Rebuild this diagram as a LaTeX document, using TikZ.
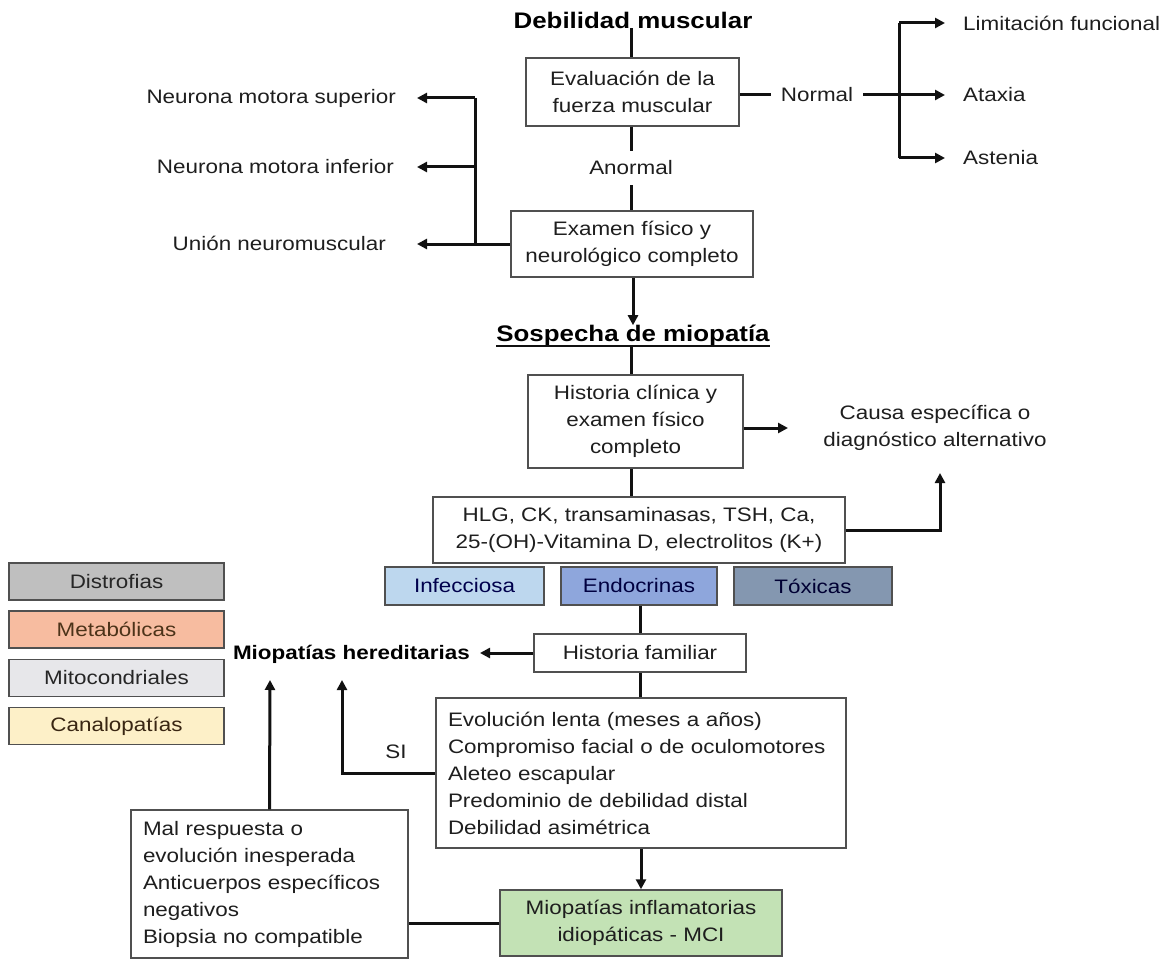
\documentclass[tikz,border=0pt]{standalone}
\usepackage{fontspec}
\setmainfont{Liberation Sans}[FakeStretch=1.15]
\usetikzlibrary{arrows.meta}
\definecolor{tcol}{HTML}{1E1E1E}
\definecolor{bcol}{HTML}{505050}
\definecolor{lcol}{HTML}{111111}
\definecolor{infc}{HTML}{BDD7EE}
\definecolor{endc}{HTML}{8EA6DC}
\definecolor{toxc}{HTML}{8497B0}
\definecolor{disc}{HTML}{BFBFBF}
\definecolor{metc}{HTML}{F7BCA0}
\definecolor{mitc}{HTML}{E7E7EA}
\definecolor{canc}{HTML}{FDF0C8}
\definecolor{grnc}{HTML}{C3E2B5}
\begin{document}
\begin{tikzpicture}[x=1pt,y=-1pt,
  txt/.style={font=\fontsize{19.5}{27}\selectfont, text=tcol, inner sep=0pt},
  txtb/.style={font=\fontsize{19.5}{27}\selectfont\bfseries, text=black, inner sep=0pt},
  hd/.style={font=\fontsize{22.5}{27}\selectfont\bfseries, text=black, inner sep=0pt},
  box/.style={draw=bcol, line width=1.5pt, fill=white, font=\fontsize{19.5}{27}\selectfont, text=tcol, align=center, inner sep=0pt},
  lbox/.style={box, align=left, inner xsep=12pt},
  cbox/.style={draw=bcol, line width=1.5pt, font=\fontsize{19.5}{27}\selectfont, inner sep=0pt, minimum height=38pt},
  ln/.style={draw=lcol, line width=3pt},
  arr/.style={ln, -{Triangle[length=10pt,width=10pt]}}]
\useasboundingbox (0,0) rectangle (1169,960);

% top
\node[hd] (title) at (633,20) {Debilidad muscular};
\node[box, minimum width=213pt, minimum height=68pt] (b1) at (632.5,92) {Evaluación de la\\fuerza muscular};
\draw[ln] (title.south -| 631,0) -- (b1.north -| 631,0);

\node[txt] (normal) at (817,95) {Normal};
\coordinate (jR) at (899,95);
\node[txt, anchor=west] (lim) at (963,23) {Limitación funcional};
\node[txt, anchor=west] (atax) at (963,95) {Ataxia};
\node[txt, anchor=west] (aste) at (963,158) {Astenia};
\draw[ln, shorten >=10pt] (b1.east |- normal.west) -- (normal.west);
\draw[arr, shorten <=10pt, shorten >=18pt] (normal.east) -- (atax.west);
\draw[ln] (lim.west -| jR) -- (aste.west -| jR);
\draw[arr, shorten >=18pt] (lim.west -| jR) -- (lim.west);
\draw[arr, shorten >=18pt] (aste.west -| jR) -- (aste.west);

\node[txt, inner ysep=10pt] (anormal) at (631,168) {Anormal};
\node[box, minimum width=242pt, minimum height=66pt] (b2) at (632,244) {Examen físico y\\neurológico completo};
\draw[ln] (b1.south -| anormal.north) -- (anormal.north);
\draw[ln] (anormal.south) -- (anormal.south |- b2.north);

% left
\node[txt, anchor=east] (nms) at (396,98) {Neurona motora superior};
\node[txt, anchor=east] (nmi) at (394,167) {Neurona motora inferior};
\node[txt, anchor=east] (unm) at (386,243) {Unión neuromuscular};
\coordinate (jL) at (475,244);
\draw[arr, shorten >=31pt] (b2.west) -- (b2.west -| unm.east);
\draw[ln] (jL |- nms.east) -- (jL);
\draw[arr, shorten >=21pt] (jL |- nms.east) -- (nms.east);
\draw[arr, shorten >=23pt] (jL |- nmi.east) -- (nmi.east);

% sospecha
\node[hd] (sosp) at (633,336) {Sospecha de miopatía};
\draw[line width=2pt, lcol] ([yshift=-4pt]sosp.base west) -- ([yshift=-4pt]sosp.base east);
\draw[arr] (b2.south -| sosp.north) -- (sosp.north);

\node[box, minimum width=215pt, minimum height=93pt] (b3) at (635.5,421.5) {Historia clínica y\\examen físico\\completo};
\draw[ln] (sosp.south -| 631,0) -- (b3.north -| 631,0);
\coordinate (cA) at (788,428);
\draw[arr] (b3.east |- cA) -- (cA);
\node[txt, align=center] (causa) at (935,428) {Causa específica o\\diagnóstico alternativo};

\node[box, minimum width=412pt, minimum height=66pt] (b4) at (639,530) {HLG, CK, transaminasas, TSH, Ca,\\25-(OH)-Vitamina D, electrolitos (K+)};
\draw[ln] (b3.south -| 631,0) -- (b4.north -| 631,0);
\coordinate (cB) at (940,473);
\draw[arr] (b4.east) -| (cB);

\node[cbox, fill=infc, minimum width=159pt, text=blue!30!black] (inf) at (464.5,586) {Infecciosa};
\node[cbox, fill=endc, minimum width=156pt, text=blue!25!black] (endo) at (639,586) {Endocrinas};
\node[cbox, fill=toxc, minimum width=158pt, text=blue!20!black] (tox) at (813,586) {Tóxicas};

% historia familiar
\node[box, minimum width=212pt, minimum height=38pt] (hf) at (640,653) {Historia familiar};
\draw[ln] (endo.south -| hf.north) -- (hf.north);
\node[txtb, anchor=east] (mh) at (470,654) {Miopatías hereditarias};
\draw[arr, shorten >=10pt] (hf.west) -- (hf.west -| mh.east);

\node[lbox, text width=386pt, minimum height=150pt] (b5) at (641,773) {Evolución lenta (meses a años)\\Compromiso facial o de oculomotores\\Aleteo escapular\\Predominio de debilidad distal\\Debilidad asimétrica};
\draw[ln] (hf.south) -- (hf.south |- b5.north);
\coordinate (cC) at (342,680);
\draw[arr] (b5.west) -| (cC);
\node[txt] (si) at (396,752) {SI};

\node[box, fill=grnc, minimum width=282pt, minimum height=66pt] (b6) at (641,923) {Miopatías inflamatorias\\idiopáticas - MCI};
\draw[arr] (b5.south) -- (b6.north);

\node[lbox, text width=253pt, minimum height=148pt] (b7) at (269.5,884) {Mal respuesta o\\evolución inesperada\\Anticuerpos específicos\\negativos\\Biopsia no compatible};
\draw[ln] (b6.west) -- (b6.west -| b7.east);
\coordinate (cD) at (270,680);
\draw[arr] (b7.north) -- (cD);

% legend
\node[cbox, fill=disc, minimum width=215pt, minimum height=37pt, text=black!85] (dist) at (116.5,581.5) {Distrofias};
\node[cbox, fill=metc, minimum width=215pt, minimum height=37pt, text=brown!40!black] (meta) at (116.5,629.5) {Metabólicas};
\node[cbox, fill=mitc, minimum width=215pt, minimum height=37pt, text=black!85] (mito) at (116.5,678) {Mitocondriales};
\node[cbox, fill=canc, minimum width=215pt, minimum height=37pt, text=brown!30!black] (cana) at (116.5,726) {Canalopatías};
\end{tikzpicture}
\end{document}
